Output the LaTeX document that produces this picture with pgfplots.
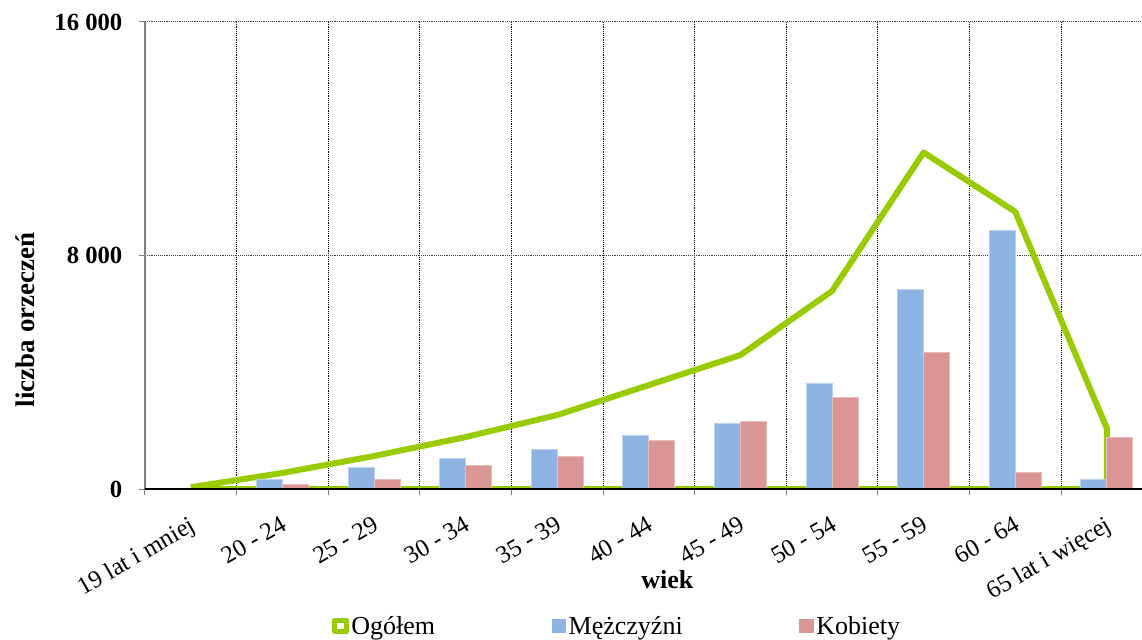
\documentclass[border=0pt]{standalone}
\usepackage{pgfplots}
\pgfplotsset{compat=1.18}
\usepackage{fontspec}
\setmainfont{Liberation Serif}
\definecolor{ogol}{HTML}{99CC00}
\definecolor{mfill}{HTML}{8EB4E3}
\definecolor{mdraw}{HTML}{B8CFEE}
\definecolor{kfill}{HTML}{D99694}
\definecolor{kdraw}{HTML}{E8BCBB}
\begin{document}
\begin{tikzpicture}
\begin{axis}[
  scale only axis, width=747.75pt, height=350.25pt,
  xmin=-0.5, xmax=10.384, ymin=0, ymax=16000,
  axis x line*=bottom, axis y line*=left,
  x axis line style={black, line width=0.9pt, -},
  y axis line style={gray, line width=0.9pt, -},
  font=\fontsize{19}{23}\selectfont,
  scaled y ticks=false,
  xtick={0,...,10},
  xticklabels={19 lat i mniej, 20 - 24, 25 - 29, 30 - 34, 35 - 39, 40 - 44, 45 - 49, 50 - 54, 55 - 59, 60 - 64, 65 lat i więcej},
  major x tick style={draw=none},
  minor xtick={-0.5,0.5,...,9.5},
  minor x tick style={gray, line width=0.75pt},
  minor tick length=4.5pt, major tick length=4.5pt,
  tick align=outside,
  xminorgrids=true, ymajorgrids=true,
  minor x grid style={black, densely dotted, line width=0.75pt},
  major y grid style={black!75, densely dotted, line width=0.75pt},
  ytick={0,8000,16000},
  yticklabels={0, 8 000, 16 000},
  major y tick style={gray, line width=0.75pt},
  yticklabel style={font=\bfseries\fontsize{18.5}{22}\selectfont, xshift=-9pt},
  xticklabel style={font=\fontsize{18.5}{22}\selectfont, rotate=30, anchor=north east, inner sep=0pt, yshift=-12pt, xshift=-9pt},
  xlabel={wiek},
  xlabel style={at={(axis description cs:0.524,-0.195)}, anchor=center, font=\bfseries\fontsize{19.5}{23}\selectfont},
  ylabel={liczba orzeczeń},
  ylabel style={at={(axis description cs:-0.120,0.362)}, anchor=center, font=\bfseries\fontsize{20.2}{23}\selectfont},
  legend columns=3,
  legend style={at={(axis description cs:0.474,-0.2934)}, anchor=center, draw=none, fill=none,
    font=\fontsize{19.5}{23}\selectfont,
    /tikz/every even column/.append style={column sep=85.5pt}},
]
\addplot[ogol, line width=4.5pt, line join=round, mark=none,
  legend image code/.code={\draw[ogol, line width=3.6pt, fill=white] (0pt,-4.3pt) rectangle (8.6pt,4.3pt);}]
  coordinates {(0,60) (1,550) (2,1130) (3,1780) (4,2535) (5,3560) (6,4590) (7,6780) (8,11530) (9,9500) (10,2080) (10,0) (0,0)};
\addplot[ybar, bar width=19.5pt, bar shift=-9.75pt, fill=mfill, draw=mdraw, line width=0.75pt,
  legend image code/.code={\fill[mfill] (0pt,-5pt) rectangle (10pt,5pt);}]
  coordinates {(0,30) (1,340) (2,720) (3,1030) (4,1370) (5,1850) (6,2260) (7,3600) (8,6850) (9,8870) (10,310)};
\addplot[ybar, bar width=19.5pt, bar shift=9.75pt, fill=kfill, draw=kdraw, line width=0.75pt,
  legend image code/.code={\fill[kfill] (0pt,-5pt) rectangle (10pt,5pt);}]
  coordinates {(0,10) (1,140) (2,340) (3,790) (4,1100) (5,1645) (6,2300) (7,3150) (8,4660) (9,580) (10,1750)};
\legend{Ogółem, Mężczyźni, Kobiety}
\draw[black, line width=0.9pt] (rel axis cs:0,0) -- (rel axis cs:1,0);
\end{axis}
\pgfresetboundingbox
\path ([xshift=-108.75pt,yshift=-112.5pt]current axis.south west) rectangle ([yshift=16.5pt]current axis.north east);
\end{tikzpicture}
\end{document}
